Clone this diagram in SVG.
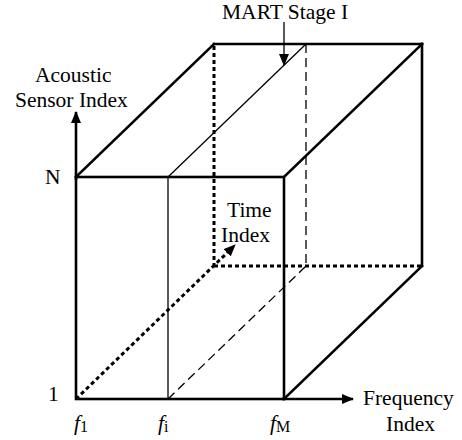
<svg xmlns="http://www.w3.org/2000/svg" width="462" height="440" viewBox="0 0 462 440">
<style>
.thick{stroke:#000;stroke-width:2.6;fill:none;stroke-linecap:square}
.thin{stroke:#000;stroke-width:1.3;fill:none}
.dash{stroke:#000;stroke-width:1.3;fill:none;stroke-dasharray:9,5}
.dot{stroke:#000;stroke-width:3;fill:none;stroke-dasharray:4,3}
.ax{stroke:#000;stroke-width:2.6;fill:none}
text{font-family:"Liberation Serif","Times New Roman",serif;font-size:21.5px;fill:#000}
.it{font-style:italic}
.sub{font-size:16px}
</style>
<defs>
<marker id="ah" markerWidth="12" markerHeight="10" refX="11" refY="5" orient="auto" markerUnits="userSpaceOnUse">
<path d="M0,0 L12,5 L0,10 Z" fill="#000"/>
</marker>
</defs>
<g id="cube">
<rect class="thick" x="76" y="177" width="208" height="222"/>
<line class="thick" x1="214" y1="44" x2="422" y2="44"/>
<line class="thick" x1="422" y1="44" x2="422" y2="266"/>
<line class="thick" x1="76" y1="177" x2="214" y2="44"/>
<line class="thick" x1="284" y1="177" x2="422" y2="44"/>
<line class="thick" x1="284" y1="399" x2="422" y2="266"/>
<line class="dot" x1="214" y1="46" x2="214" y2="266"/>
<line class="dot" x1="214" y1="266" x2="422" y2="266"/>
</g>
<g id="slice">
<line class="thin" x1="168" y1="177" x2="168" y2="399"/>
<line class="thin" x1="168" y1="177" x2="306" y2="44"/>
<line class="dash" x1="306" y1="44" x2="306" y2="266"/>
<line class="dash" x1="168" y1="399" x2="306" y2="266"/>
</g>
<g id="connectors">
<line class="ax" x1="76" y1="180" x2="76" y2="112" marker-end="url(#ah)"/>
<line class="ax" x1="282" y1="399" x2="353" y2="399" marker-end="url(#ah)"/>
<line class="dot" x1="76" y1="399" x2="230" y2="250"/>
<line stroke="none" x1="226" y1="254" x2="235" y2="245" marker-end="url(#ah)"/>
<line class="thin" x1="284" y1="22" x2="284" y2="65" marker-end="url(#ah)"/>
</g>
<g id="labels">
<text x="222" y="19">MART Stage I</text>
<text x="35" y="82">Acoustic</text>
<text x="15" y="107">Sensor Index</text>
<text x="45" y="184">N</text>
<text x="48" y="401">1</text>
<text x="227" y="217">Time</text>
<text x="221" y="242">Index</text>
<text x="363" y="405">Frequency</text>
<text x="386" y="431">Index</text>
<text x="74" y="430"><tspan class="it">f</tspan><tspan class="sub" dy="2">1</tspan></text>
<text x="158" y="430"><tspan class="it">f</tspan><tspan class="sub" dy="2">i</tspan></text>
<text x="270" y="430"><tspan class="it">f</tspan><tspan class="sub" dy="2">M</tspan></text>
</g>
</svg>
